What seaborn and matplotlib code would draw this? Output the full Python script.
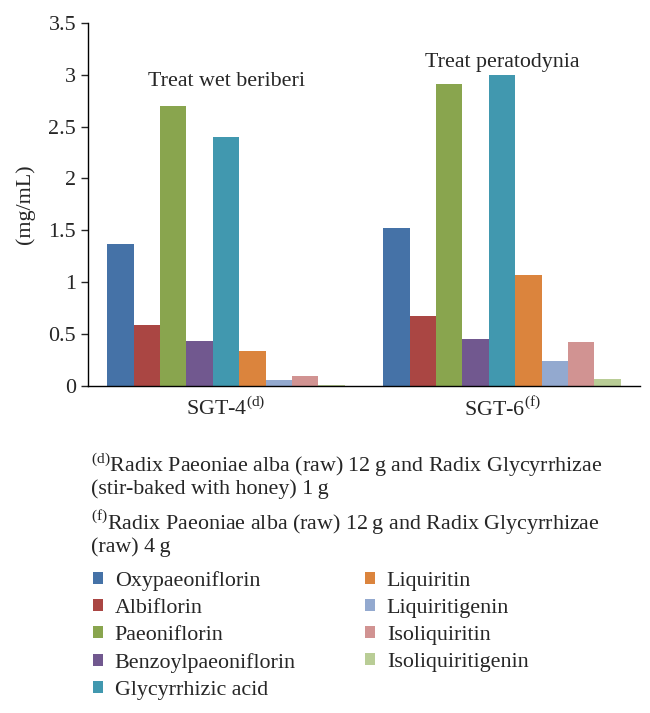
import pandas as pd
import numpy as np
from matplotlib import pyplot as plt
from matplotlib.patches import Patch
import seaborn as sns

# data
groups = ["SGT-4$^{\\mathrm{(d)}}$", "SGT-6$^{\\mathrm{(f)}}$"]
compounds = ["Oxypaeoniflorin", "Albiflorin", "Paeoniflorin", "Benzoylpaeoniflorin",
             "Glycyrrhizic acid", "Liquiritin", "Liquiritigenin", "Isoliquiritin",
             "Isoliquiritigenin"]
sgt4 = [1.37, 0.59, 2.70, 0.43, 2.40, 0.34, 0.06, 0.10, 0.005]
sgt6 = [1.52, 0.67, 2.91, 0.45, 3.00, 1.07, 0.24, 0.42, 0.07]
colors = ["#4572A7", "#AA4643", "#89A54E", "#71588F", "#4198AF",
          "#DB843D", "#93A9CF", "#D19392", "#B9CD96"]
yticks = [0, 0.5, 1, 1.5, 2, 2.5, 3, 3.5]
ytick_labels = ["0", "0.5", "1", "1.5", "2", "2.5", "3", "3.5"]

df = pd.DataFrame({
    "group": [groups[0]] * len(compounds) + [groups[1]] * len(compounds),
    "compound": compounds * 2,
    "value": sgt4 + sgt6,
})

sns.set_style("white")
plt.rcParams['font.family'] = ['Liberation Serif', 'DejaVu Serif']
plt.rcParams['mathtext.fontset'] = 'custom'
plt.rcParams['mathtext.rm'] = 'Liberation Serif'
fs = 15.8

fig = plt.figure(figsize=(6.5, 7.13), dpi=100)
ax = fig.add_axes([88/650, 1-386/713, (640-88)/650, (386-22.7)/713])

sns.barplot(data=df, x="group", y="value", hue="compound", hue_order=compounds,
            palette=colors, width=0.86, saturation=1, linewidth=0, ax=ax, legend=False)

ax.set_ylim(0, 3.5)
ax.set_xlim(-0.5, 1.5)
ax.set_yticks(yticks)
ax.set_yticklabels(ytick_labels, fontsize=fs)
ax.set_ylabel("(mg/mL)", fontsize=fs, labelpad=10)
ax.set_xlabel("")
ax.tick_params(axis='x', length=0, labelsize=fs, pad=8)
ax.set_xticks([-0.5, 0.5, 1.5], minor=True)
ax.tick_params(axis='x', which='minor', length=5, direction='out', width=1)
ax.tick_params(axis='y', length=5, direction='out', width=1, left=True)
for s in ["top", "right"]:
    ax.spines[s].set_visible(False)
for s in ["left", "bottom"]:
    ax.spines[s].set_color("black")
    ax.spines[s].set_linewidth(1)

ax.text(0.0, 2.93, "Treat wet beriberi", ha='center', va='center', fontsize=fs)
ax.text(1.0, 3.12, "Treat peratodynia", ha='center', va='center', fontsize=fs)

# footnotes
fig.text(91/650, 1-465/713, "$^{\\mathrm{(d)}}$Radix Paeoniae alba (raw) 12\u2009g and Radix Glycyrrhizae",
         fontsize=fs, va='center')
fig.text(91/650, 1-489/713, "(stir-baked with honey) 1\u2009g", fontsize=fs, va='center')
fig.text(91/650, 1-523/713, "$^{\\mathrm{(f)}}$Radix Paeoniae alba (raw) 12\u2009g and Radix Glycyrrhizae",
         fontsize=fs, va='center')
fig.text(91/650, 1-547/713, "(raw) 4\u2009g", fontsize=fs, va='center')

handles = [Patch(facecolor=c, edgecolor='none') for c in colors]
fig.legend(handles, compounds, loc='upper left', bbox_to_anchor=(84/650, 1-562/713),
           ncol=2, frameon=False, fontsize=fs, handlelength=0.45, handleheight=0.45,
           handletextpad=0.55, labelspacing=0.37, columnspacing=3.15, borderaxespad=0)

fig.savefig("out.png", dpi=100)
